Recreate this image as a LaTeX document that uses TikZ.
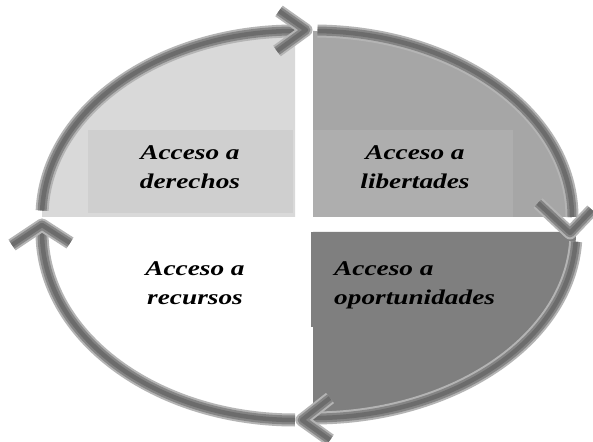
\documentclass[tikz,border=0pt]{standalone}
\usepackage{fontspec}
\newfontfamily\lblfont[FakeStretch=1.3]{Liberation Serif}
\definecolor{qone}{HTML}{D9D9D9}
\definecolor{qonebox}{HTML}{CFCFCF}
\definecolor{qtwo}{HTML}{A6A6A6}
\definecolor{qtwobox}{HTML}{AEAEAE}
\definecolor{qthree}{HTML}{7F7F7F}
\definecolor{qthreebox}{HTML}{7F7F7F}
\definecolor{bandout}{HTML}{B4B4B4}
\definecolor{bandmid}{HTML}{858585}
\definecolor{banddark}{HTML}{6C6C6C}
\begin{document}
\begin{tikzpicture}[x=1pt,y=1pt,
  band/.style={draw=bandout, line width=13pt, line join=round,
    postaction={draw=bandmid, line width=9pt},
    postaction={draw=banddark, line width=4.5pt}},
  quadtext/.style={font=\lblfont\bfseries\itshape\fontsize{21}{29}\selectfont,
    inner sep=0pt, text=black}]

\fill[white] (0,0) rectangle (593,441);
\useasboundingbox (0,0) rectangle (593,441);

% centres of the four quarter arcs
\coordinate (c1) at (295,224);
\coordinate (c2) at (313,224);
\coordinate (c3) at (313,209);
\coordinate (c4) at (295,209);

% quadrant fills
\fill[qone] (c1) -- ++(-253,0) arc[start angle=180,end angle=90,x radius=253,y radius=186] -- cycle;
\fill[qtwo] (c2) -- ++(0,186) arc[start angle=90,end angle=0,x radius=259,y radius=186] -- cycle;
\fill[qthree] (c3) -- ++(263,0) arc[start angle=0,end angle=-90,x radius=263,y radius=186] -- cycle;

% text panels
\fill[qonebox] (88,228) rectangle (293,311);
\fill[qtwobox] (313,224) rectangle (513,311);
\fill[qthreebox] (311,114) rectangle (526,209);

% circular arrow bands
\draw[band] (c1) ++(178:253 and 186) arc[start angle=178,end angle=90,x radius=253,y radius=186];
\draw[band] (c2) ++(89:259 and 186) arc[start angle=89,end angle=0,x radius=259,y radius=186];
\draw[band] (c3) ++(-3:263 and 186) arc[start angle=-3,end angle=-90,x radius=263,y radius=186];
\draw[band] (c4) ++(270:253 and 188) arc[start angle=270,end angle=180,x radius=253,y radius=188];

% arrow heads
\coordinate (t1) at (306,411);
\coordinate (t2) at (570,208);
\coordinate (t3) at (302,21);
\coordinate (t4) at (42,216);
\draw[band] (279,430) -- (t1) -- (277,390);
\draw[band] (538,238) -- (t2) -- (592,231);
\draw[band] (330,43) -- (t3) -- (330,1);
\draw[band] (12,196) -- (t4) -- (70,198);

% labels
\node[quadtext, align=center, anchor=north] (derechos) at (190,296) {Acceso a\\derechos};
\node[quadtext, align=center, anchor=north] (libertades) at (415,296) {Acceso a\\libertades};
\node[quadtext, align=left, anchor=north west] (oportunidades) at (334,180) {Acceso a\\oportunidades};
\node[quadtext, align=center, anchor=north] (recursos) at (195,180) {Acceso a\\recursos};
\end{tikzpicture}
\end{document}
